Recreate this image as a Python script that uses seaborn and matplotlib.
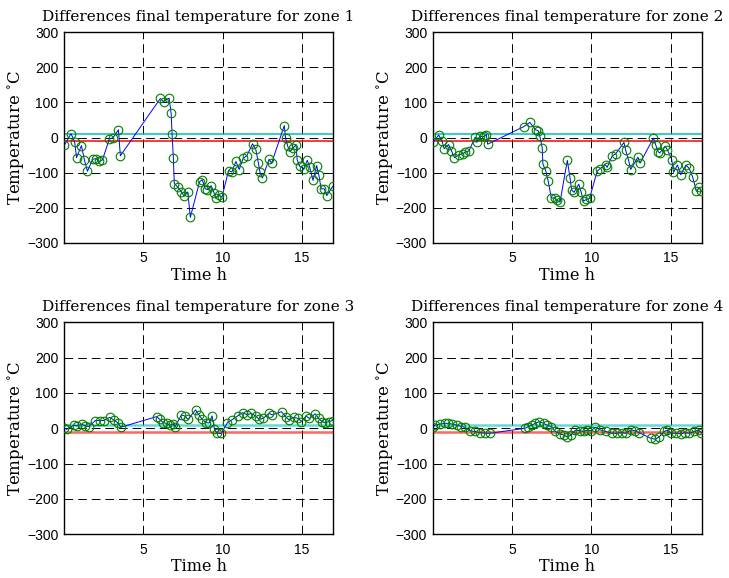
import numpy as np
import pandas as pd
import matplotlib
matplotlib.use("Agg")
import matplotlib.pyplot as plt
import seaborn as sns

# Time stamps (h) and temperature differences (°C) per zone
t1 = [0.02, 0.44, 0.67, 0.79, 1.10, 1.29, 1.48, 1.80, 2.02, 2.20, 2.42, 2.85, 3.10, 3.43, 3.55,
      6.07, 6.27, 6.62, 6.75, 6.81, 6.89, 6.95, 7.19, 7.40, 7.57, 7.80, 7.96, 8.54, 8.71, 8.90,
      9.04, 9.27, 9.46, 9.55, 9.75, 9.95, 10.37, 10.58, 10.83, 11.04, 11.29, 11.52, 11.88, 12.08,
      12.25, 12.35, 12.50, 12.92, 13.08, 13.88, 13.96, 14.10, 14.23, 14.44, 14.62, 14.69, 14.85,
      15.10, 15.33, 15.48, 15.69, 15.92, 16.06, 16.20, 16.40, 16.56, 16.93]
y1 = [-22, 11, -12, -57, -23, -65, -96, -62, -60, -68, -64, -5, 0, 22, -52,
      111, 102, 112, 69, 9, -58, -131, -142, -155, -167, -155, -227, -126, -120, -146,
      -148, -137, -158, -172, -163, -170, -94, -98, -68, -91, -59, -52, -18, -33,
      -73, -99, -115, -62, -73, 34, -2, -25, -40, -30, -20, -63, -82,
      -89, -65, -84, -122, -80, -107, -146, -146, -165, -139]

t2 = [0.02, 0.38, 0.59, 0.72, 1.00, 1.18, 1.37, 1.65, 1.90, 2.05, 2.28, 2.68, 2.78, 2.95, 3.20,
      3.38, 3.46, 5.74, 6.12, 6.48, 6.65, 6.75, 6.90, 6.94, 7.13, 7.28, 7.47, 7.68, 7.80, 8.02,
      8.48, 8.65, 8.75, 8.90, 9.20, 9.35, 9.50, 9.68, 9.88, 10.36, 10.53, 10.89, 10.99, 11.31,
      11.52, 12.05, 12.15, 12.36, 12.47, 12.93, 13.06, 13.90, 14.05, 14.20, 14.30, 14.64, 14.79,
      15.06, 15.17, 15.42, 15.63, 15.95, 16.16, 16.37, 16.62, 16.80, 16.93]
y2 = [-13, 7, -11, -32, -20, -38, -57, -49, -46, -42, -38, 1, -14, 3, 3,
      8, -19, 31, 43, 22, 19, 3, -30, -75, -96, -125, -172, -172, -178, -184,
      -65, -115, -149, -156, -133, -155, -181, -176, -173, -96, -89, -78, -85, -52,
      -47, -14, -35, -68, -91, -56, -73, -2, -21, -40, -44, -25, -35,
      -63, -99, -78, -106, -78, -88, -111, -153, -142, -152]

t3 = [0.02, 0.17, 0.62, 0.79, 1.15, 1.35, 1.56, 1.98, 2.29, 2.50, 2.88, 3.12, 3.38, 3.58, 5.83,
      6.04, 6.25, 6.46, 6.67, 6.88, 6.98, 7.40, 7.60, 7.81, 8.29, 8.50, 8.71, 8.96, 9.15, 9.33,
      9.48, 9.65, 9.90, 10.30, 10.58, 10.94, 11.25, 11.56, 11.77, 12.08, 12.29, 12.54, 12.92,
      13.12, 13.71, 13.96, 14.17, 14.48, 14.75, 14.96, 15.25, 15.46, 15.83, 16.04, 16.25, 16.46,
      16.71, 16.93]
y3 = [0, -3, 9, 7, 11, 7, 5, 22, 22, 22, 31, 24, 16, 3, 33,
      25, 16, 14, 9, 12, 3, 38, 35, 25, 52, 38, 25, 16, 15, 35,
      -3, -14, -14, 16, 24, 35, 44, 38, 42, 35, 25, 28, 42,
      38, 47, 33, 24, 31, 28, 19, 35, 28, 41, 28, 19, 16,
      19, 22]

t4 = [0.02, 0.13, 0.44, 0.76, 0.97, 1.22, 1.50, 1.81, 2.02, 2.34, 2.66, 2.97, 3.29, 3.61, 5.82,
      6.03, 6.24, 6.46, 6.71, 6.98, 7.19, 7.47, 7.72, 8.04, 8.25, 8.46, 8.70, 8.99, 9.30, 9.51,
      9.72, 9.96, 10.25, 10.57, 10.89, 11.27, 11.62, 11.94, 12.15, 12.47, 12.74, 13.00, 13.73,
      14.00, 14.26, 14.58, 14.79, 15.00, 15.32, 15.63, 15.90, 16.16, 16.48, 16.75, 16.93]
y4 = [3, 9, 12, 14, 14, 12, 9, 5, 3, -7, -9, -12, -14, -14, 0,
      5, 9, 14, 19, 14, 9, 5, -9, -16, -19, -24, -20, -5, -7, -9,
      -5, -7, 3, -5, -9, -14, -14, -12, -14, -5, -7, -12, -28,
      -31, -25, -9, -5, -14, -14, -16, -12, -14, -9, -5, -12]

zones = [1, 2, 3, 4]
times = [t1, t2, t3, t4]
diffs = [y1, y2, y3, y4]

# Tolerance band limits (°C)
upper_limit = 10
lower_limit = -10

x_ticks = [5, 10, 15]
y_ticks = [-300, -200, -100, 0, 100, 200, 300]

sns.set_theme(style="white")
plt.rcParams["mathtext.fontset"] = "dejavuserif"

fig = plt.figure(figsize=(7.29, 5.78), dpi=100)
fig.patch.set_facecolor("white")

# axes rectangles [left, bottom, width, height] in figure fractions
rects = [
    [0.0878, 0.5796, 0.369, 0.365],
    [0.5936, 0.5796, 0.369, 0.365],
    [0.0878, 0.0756, 0.369, 0.3668],
    [0.5936, 0.0756, 0.369, 0.3668],
]

serif = "DejaVu Serif"
tick_font = "Liberation Sans"
green = (0.0, 0.5, 0.0)

for k, (zone, t, y) in enumerate(zip(zones, times, diffs)):
    ax = fig.add_axes(rects[k])
    ax.set_facecolor("white")
    df = pd.DataFrame({"time": t, "diff": y})

    # dashed black grid
    for gx in x_ticks:
        ax.axvline(gx, color="black", lw=0.7, ls=(0, (9, 5)), zorder=1)
    for gy in y_ticks:
        ax.axhline(gy, color="black", lw=0.7, ls=(0, (9, 5)), zorder=1)

    light = k >= 2
    ax.axhline(upper_limit, color=(0.0, 0.75, 0.75), lw=1.8 if light else 1.1,
               alpha=0.6 if light else 1.0, zorder=2)
    ax.axhline(lower_limit, color=(1.0, 0.0, 0.0), lw=1.8 if light else 1.1,
               alpha=0.6 if light else 1.0, zorder=2)

    sns.lineplot(data=df, x="time", y="diff", ax=ax, color="blue", lw=0.7,
                 estimator=None, sort=False, zorder=3, legend=False)
    sns.lineplot(data=df, x="time", y="diff", ax=ax, color=green, lw=0,
                 marker="o", markersize=6.2, markerfacecolor="none",
                 markeredgecolor=green, markeredgewidth=0.8,
                 estimator=None, sort=False, zorder=4, legend=False)

    ax.set_xlim(0.0, 16.95)
    ax.set_ylim(-300, 300)
    ax.set_xticks(x_ticks)
    ax.set_yticks(y_ticks)
    ax.set_xticklabels([str(v) for v in x_ticks], fontfamily=tick_font, fontsize=10)
    ax.set_yticklabels([("\u2212" + str(-v)) if v < 0 else str(v) for v in y_ticks],
                       fontfamily=tick_font, fontsize=10)
    ax.tick_params(axis="x", direction="in", length=3, width=0.7, colors="black",
                   top=True, bottom=True, pad=6)
    ax.tick_params(axis="y", direction="in", length=3, width=0.7, colors="black",
                   left=True, right=True, pad=4)
    for sp in ax.spines.values():
        sp.set_visible(True)
        sp.set_color("black")
        sp.set_linewidth(1.0)
    ax.grid(False)

    ax.set_title(f"Differences final temperature for zone {zone}",
                 fontfamily=serif, fontsize=11, pad=8, color="black")
    ax.set_xlabel("Time h", fontfamily=serif, fontsize=11.5, labelpad=1, color="black")
    ax.set_ylabel("Temperature $^{\\circ}$C", fontfamily=serif, fontsize=12,
                  labelpad=0, color="black")

fig.savefig("out.png", dpi=100, facecolor="white")
